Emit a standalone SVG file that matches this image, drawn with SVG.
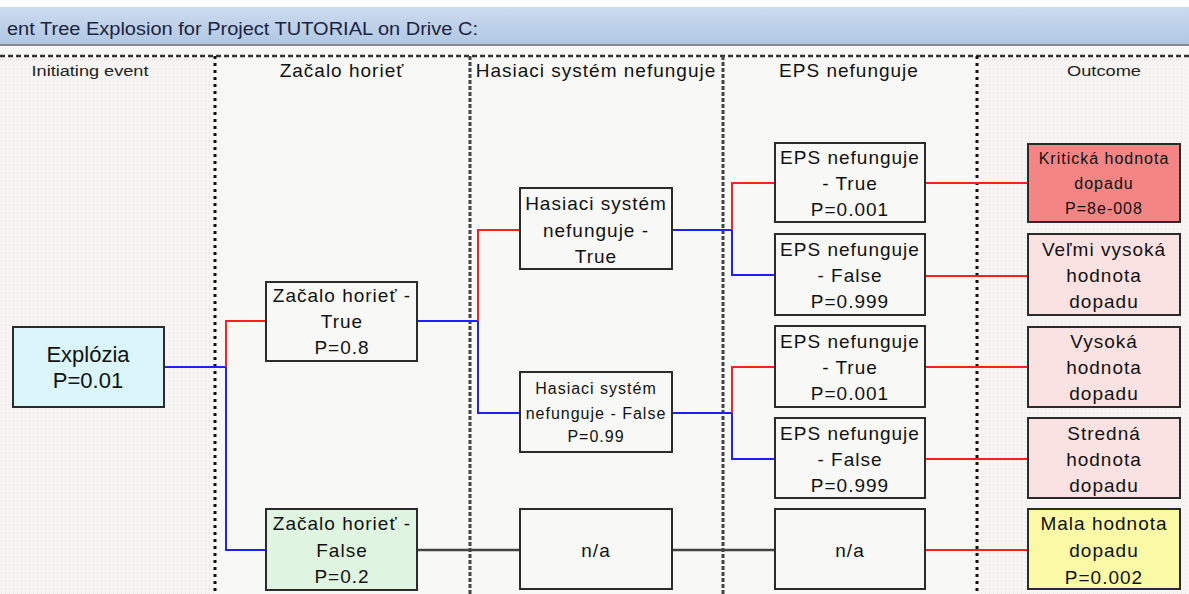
<svg xmlns="http://www.w3.org/2000/svg" width="1189" height="594" viewBox="0 0 1189 594">
<defs>
<linearGradient id="bar" x1="0" y1="0" x2="0" y2="1">
<stop offset="0" stop-color="#cddcef"/>
<stop offset="1" stop-color="#b0c7e4"/>
</linearGradient>
<pattern id="grain" width="4" height="4" patternUnits="userSpaceOnUse">
<rect width="4" height="4" fill="#f6f5f4"/>
<rect x="1" y="1" width="1" height="1" fill="#ebe4e4"/>
</pattern>
<style>
.div1{stroke:#111;stroke-width:3;stroke-dasharray:3 4;fill:none}
.div2{stroke:#444;stroke-width:3;stroke-dasharray:4 2;fill:none}
.box{stroke:#2b2b2b;stroke-width:2}
.plain{fill:#f8f8f6}
.t{font-family:"Liberation Sans",Arial,sans-serif;font-size:19px;letter-spacing:1px;fill:#111;text-anchor:middle}
.ts{font-size:16px}
.tl{font-size:22px;letter-spacing:0}
.h{font-family:"Liberation Sans",Arial,sans-serif;fill:#222;text-anchor:middle}
.red{stroke:#ff1f1f;stroke-width:2;fill:none}
.blue{stroke:#2020ff;stroke-width:2;fill:none}
.gray{stroke:#444;stroke-width:2.5;fill:none}
</style>
</defs>
<rect width="1189" height="594" fill="#fff"/>
<rect x="0" y="7" width="1189" height="37" fill="url(#bar)"/>
<rect x="0" y="44" width="1189" height="2" fill="#8a8a8a"/>
<rect x="0" y="46" width="1189" height="548" fill="#f8f8f6"/>
<rect x="0" y="57" width="214" height="537" fill="url(#grain)"/>
<rect x="978" y="57" width="211" height="537" fill="url(#grain)"/>
<text x="7" y="35" font-family="'Liberation Sans',Arial,sans-serif" font-size="18" fill="#1c2440" textLength="471" lengthAdjust="spacingAndGlyphs">ent Tree Explosion for Project TUTORIAL on Drive C:</text>

<g id="grid">
<line x1="0" y1="56" x2="1189" y2="56" stroke="#333" stroke-width="2.5" stroke-dasharray="5 3"/>
<line class="div1" x1="215" y1="56" x2="215" y2="594"/>
<line class="div2" x1="470" y1="56" x2="470" y2="594"/>
<line class="div2" x1="723" y1="56" x2="723" y2="594"/>
<line class="div1" x1="977" y1="56" x2="977" y2="594"/>
</g>

<g id="headers">
<text class="h" x="90" y="76" font-size="14" textLength="117" lengthAdjust="spacingAndGlyphs">Initiating event</text>
<text class="t" x="342" y="77">Začalo horieť</text>
<text class="t" x="596" y="77">Hasiaci systém nefunguje</text>
<text class="t" x="849" y="77">EPS nefunguje</text>
<text class="h" x="1104" y="76" font-size="14" textLength="74" lengthAdjust="spacingAndGlyphs">Outcome</text>
</g>

<g id="connectors">
<polyline class="blue" points="164,367 226,367"/>
<polyline class="red" points="226,367 226,321 266,321"/>
<polyline class="blue" points="226,367 226,550 266,550"/>
<polyline class="blue" points="417,321 478,321"/>
<polyline class="red" points="478,321 478,230 520,230"/>
<polyline class="blue" points="478,321 478,413 520,413"/>
<polyline class="gray" points="417,550 520,550"/>
<polyline class="blue" points="672,230 732,230"/>
<polyline class="red" points="732,230 732,183 775,183"/>
<polyline class="blue" points="732,230 732,275 775,275"/>
<polyline class="blue" points="672,413 732,413"/>
<polyline class="red" points="732,413 732,367 775,367"/>
<polyline class="blue" points="732,413 732,459 775,459"/>
<polyline class="gray" points="672,550 775,550"/>
<polyline class="red" points="925,183 1028,183"/>
<polyline class="red" points="925,276 1028,276"/>
<polyline class="red" points="925,367 1028,367"/>
<polyline class="red" points="925,459 1028,459"/>
<polyline class="red" points="925,550 1028,550"/>
</g>

<g id="n_explozia">
<rect class="box" x="13" y="327" width="151" height="80" fill="#daf6fa"/>
<text class="t tl" x="88" y="362">Explózia</text>
<text class="t tl" x="88" y="388">P=0.01</text>
</g>

<g id="n_zacalo_true">
<rect class="box plain" x="266" y="282" width="151" height="79"/>
<text class="t" x="342" y="302">Začalo horieť -</text>
<text class="t" x="342" y="328">True</text>
<text class="t" x="342" y="354">P=0.8</text>
</g>

<g id="n_zacalo_false">
<rect class="box" x="266" y="509" width="151" height="81" fill="#e0f5e1"/>
<text class="t" x="342" y="530">Začalo horieť -</text>
<text class="t" x="342" y="557">False</text>
<text class="t" x="342" y="583">P=0.2</text>
</g>

<g id="n_hasiaci_true">
<rect class="box plain" x="520" y="188" width="152" height="81"/>
<text class="t" x="596" y="210">Hasiaci systém</text>
<text class="t" x="596" y="237">nefunguje -</text>
<text class="t" x="596" y="263">True</text>
</g>

<g id="n_hasiaci_false">
<rect class="box plain" x="520" y="372" width="152" height="80"/>
<text class="t ts" x="596" y="394">Hasiaci systém</text>
<text class="t ts" x="596" y="419">nefunguje - False</text>
<text class="t ts" x="596" y="442">P=0.99</text>
</g>

<g id="n_na1">
<rect class="box plain" x="520" y="509" width="152" height="80"/>
<text class="t" x="596" y="557">n/a</text>
</g>

<g id="n_eps_true1">
<rect class="box plain" x="775" y="143" width="150" height="79"/>
<text class="t" x="850" y="164">EPS nefunguje</text>
<text class="t" x="850" y="190">- True</text>
<text class="t" x="850" y="216">P=0.001</text>
</g>

<g id="n_eps_false1">
<rect class="box plain" x="775" y="234" width="150" height="81"/>
<text class="t" x="850" y="256">EPS nefunguje</text>
<text class="t" x="850" y="282">- False</text>
<text class="t" x="850" y="308">P=0.999</text>
</g>

<g id="n_eps_true2">
<rect class="box plain" x="775" y="326" width="150" height="81"/>
<text class="t" x="850" y="348">EPS nefunguje</text>
<text class="t" x="850" y="374">- True</text>
<text class="t" x="850" y="400">P=0.001</text>
</g>

<g id="n_eps_false2">
<rect class="box plain" x="775" y="418" width="150" height="80"/>
<text class="t" x="850" y="440">EPS nefunguje</text>
<text class="t" x="850" y="466">- False</text>
<text class="t" x="850" y="492">P=0.999</text>
</g>

<g id="n_na2">
<rect class="box plain" x="775" y="509" width="150" height="80"/>
<text class="t" x="850" y="557">n/a</text>
</g>

<g id="n_kriticka">
<rect class="box" x="1028" y="144" width="152" height="78" fill="#f38585"/>
<text class="t ts" x="1104" y="164">Kritická hodnota</text>
<text class="t ts" x="1104" y="189">dopadu</text>
<text class="t ts" x="1104" y="214">P=8e-008</text>
</g>

<g id="n_velmi">
<rect class="box" x="1028" y="234" width="152" height="81" fill="#fbe2e2"/>
<text class="t" x="1104" y="256">Veľmi vysoká</text>
<text class="t" x="1104" y="282">hodnota</text>
<text class="t" x="1104" y="308">dopadu</text>
</g>

<g id="n_vysoka">
<rect class="box" x="1028" y="327" width="152" height="80" fill="#fbe2e2"/>
<text class="t" x="1104" y="348">Vysoká</text>
<text class="t" x="1104" y="374">hodnota</text>
<text class="t" x="1104" y="400">dopadu</text>
</g>

<g id="n_stredna">
<rect class="box" x="1028" y="418" width="152" height="80" fill="#fbe2e2"/>
<text class="t" x="1104" y="440">Stredná</text>
<text class="t" x="1104" y="466">hodnota</text>
<text class="t" x="1104" y="492">dopadu</text>
</g>

<g id="n_mala">
<rect class="box" x="1028" y="509" width="152" height="80" fill="#fafaa6"/>
<text class="t" x="1104" y="530">Mala hodnota</text>
<text class="t" x="1104" y="557">dopadu</text>
<text class="t" x="1104" y="584">P=0.002</text>
</g>
</svg>
